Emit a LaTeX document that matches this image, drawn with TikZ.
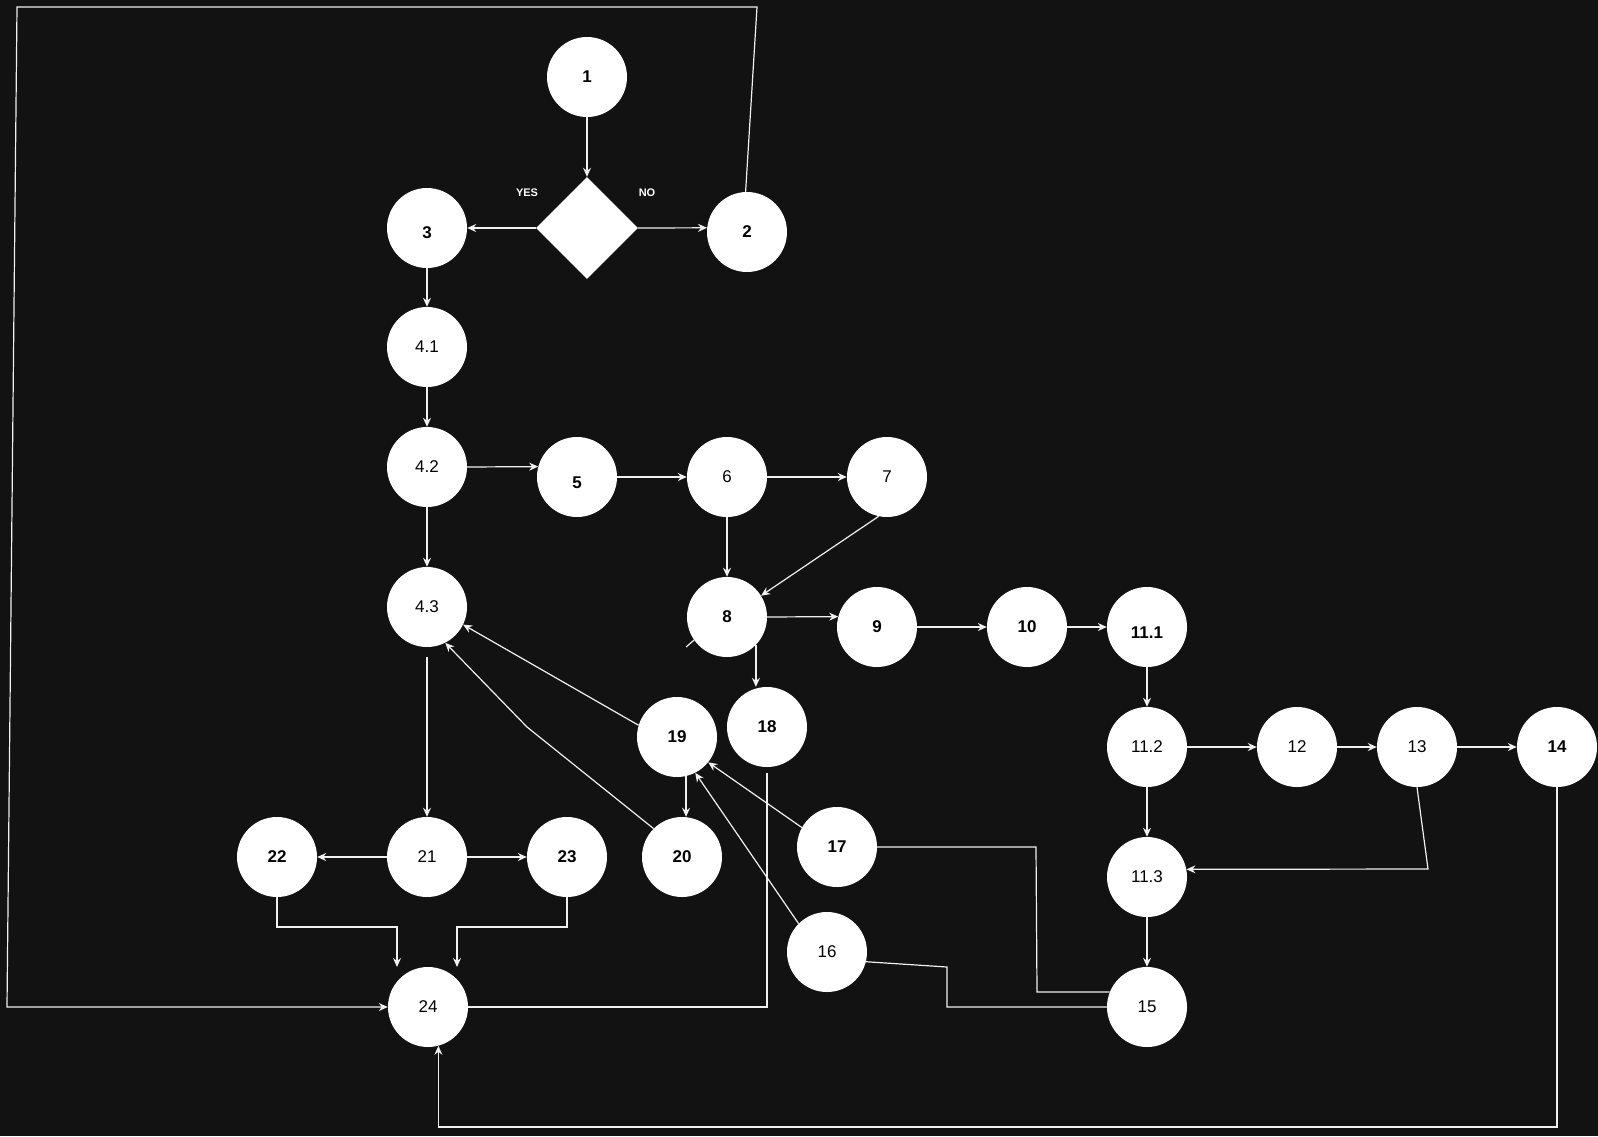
\documentclass[tikz,border=0pt]{standalone}
\usepackage{fontspec}
\setmainfont{Liberation Sans}
\usetikzlibrary{arrows.meta,shapes.geometric,calc}
\definecolor{bgc}{HTML}{121212}
\definecolor{ln}{HTML}{F0F0F0}
\newcommand{\dn}[2]{\raisebox{-#1}[\height][\depth]{#2}}
\begin{document}
\begin{tikzpicture}[x=1pt,y=-1pt,
  circ/.style={circle,fill=white,minimum size=80pt,inner sep=0pt,text=black,font=\fontsize{17}{20}\selectfont},
  bcirc/.style={circ,font=\fontsize{17}{20}\selectfont\bfseries},
  arr/.style={draw=ln,line width=1.2pt,-{Stealth[length=9pt,width=8pt,inset=3pt]}},
  ln/.style={draw=ln,line width=1.2pt},
  lab/.style={text=white,font=\fontsize{11}{13}\selectfont\bfseries}]
\fill[bgc] (0,0) rectangle (1598,1136);
\useasboundingbox (0,0) rectangle (1598,1136);
% nodes
\node[bcirc] (n1) at (587,77) {1};
\node[diamond,fill=white,minimum width=102pt,minimum height=102pt,inner sep=0pt] (dia) at (587,228) {};
\node[bcirc] (n3) at (427,228) {\dn{5pt}{3}};
\node[bcirc] (n2) at (747,232) {2};
\node[circ] (n41) at (427,347) {4.1};
\node[circ] (n42) at (427,467) {4.2};
\node[circ] (n43) at (427,607) {4.3};
\node[bcirc] (n5) at (577,477) {\dn{6pt}{5}};
\node[circ] (n6) at (727,477) {6};
\node[circ] (n7) at (887,477) {7};
\node[bcirc] (n8) at (727,617) {8};
\node[bcirc] (n9) at (877,627) {9};
\node[bcirc] (n10) at (1027,627) {10};
\node[bcirc] (n111) at (1147,627) {\dn{6pt}{11.1}};
\node[circ] (n112) at (1147,747) {11.2};
\node[circ] (n12) at (1297,747) {12};
\node[circ] (n13) at (1417,747) {13};
\node[bcirc] (n14) at (1557,747) {14};
\node[circ] (n113) at (1147,877) {11.3};
\node[circ] (n15) at (1147,1007) {15};
\node[circ] (n16) at (827,952) {16};
\node[bcirc] (n17) at (837,847) {17};
\node[bcirc] (n18) at (767,727) {18};
\node[bcirc] (n19) at (677,737) {19};
\node[bcirc] (n20) at (682,857) {20};
\node[circ] (n21) at (427,857) {21};
\node[bcirc] (n22) at (277,857) {22};
\node[bcirc] (n23) at (567,857) {23};
\node[circ] (n24) at (428,1007) {24};
% labels
\node[lab] (yes) at (527,193) {YES};
\node[lab] (no) at (647,193) {NO};
% coordinates
\coordinate (c2a) at (757,7);
\coordinate (c2b) at (17,7);
\coordinate (c2c) at (7,1007);
\coordinate (t22) at (397,967);
\coordinate (t23) at (457,967);
\coordinate (c20) at (527,727);
\coordinate (c13) at (1428,869);
% connectors
\draw[arr] (n1.south) -- (dia.north);
\draw[arr] (dia.west) -- (n3.east);
\draw[arr] (dia.east) -- (n2.174);
\draw[arr] (n2.92) -- (c2a) -- (c2b) -- (c2c) -- (n24.west);
\draw[arr] (n3.south) -- (n41.north);
\draw[arr] (n41.south) -- (n42.north);
\draw[arr] (n42.south) -- (n43.north);
\draw[arr] (n42.east) -- (n5.165.5);
\draw[arr] (n5.east) -- (n6.west);
\draw[arr] (n6.east) -- (n7.west);
\draw[arr] (n6.south) -- (n8.north);
\draw[arr] (n7.-102) -- (n8.32.6);
\draw[arr] (n8.east) -- (n9.165.5);
\draw[arr] (n9.east) -- (n10.west);
\draw[arr] (n10.east) -- (n111.west);
\draw[arr] (n111.south) -- (n112.north);
\draw[arr] (n112.east) -- (n12.west);
\draw[arr] (n12.east) -- (n13.west);
\draw[arr] (n13.east) -- (n14.west);
\draw[arr] (n112.south) -- (n113.north);
\draw[arr] (n13.south) -- (c13) -- (n113.11.5);
\draw[arr] (n113.south) -- (n15.north);
\draw[arr] (n14.south) -- (n14.south |- 0,1127) -| (n24.-75.5);
\draw[ln] (n15.158) -- (1037,992) -- (1036,847) -- (n17.east);
\draw[ln] (n15.west) -- (947,1007) -- (947,967) -- (n16.-14);
\draw[arr] (n16.135) -- (n19.-63);
\draw[arr] (n17.151.5) -- (n19.-39);
\draw[arr] (n19.-77) -- (n19.-77 |- n20.north);
\draw[arr] (n19.163) -- (n43.-26);
\draw[arr] (n20.135) -- (c20) -- (n43.-63);
\draw[arr,shorten <=10pt] (n43.south) -- (n21.north);
\draw[arr] (n21.west) -- (n22.east);
\draw[arr] (n21.east) -- (n23.west);
\draw[arr] (n22.south) |- (397,927) -- (t22);
\draw[arr] (n23.south) |- (457,927) -- (t23);
\draw[arr] (n8.-44) -- (n8.-44 |- n18.north);
\draw[ln,shorten <=6pt] (n18.south) |- (n24.east);
\draw[ln] (n8.215) -- ($(n8.215)+(-8,7)$);
\end{tikzpicture}
\end{document}
